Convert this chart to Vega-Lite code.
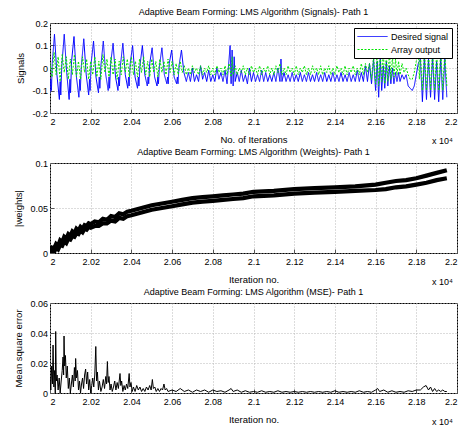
{
  "$schema": "https://vega.github.io/schema/vega-lite/v6.json",
  "background": "white",
  "padding": {"left": 13, "top": 7, "right": 5, "bottom": 5},
  "bounds": "flush",
  "spacing": 50,
  "config": {
    "font": "Liberation Sans",
    "view": {"stroke": "black", "strokeWidth": 1},
    "axis": {
      "labelFontSize": 9, "titleFontSize": 9.5, "titleFontWeight": "normal",
      "labelColor": "#000", "titleColor": "#000", "domain": false, "labelOverlap": false,
      "ticks": true, "tickSize": -4, "tickColor": "#555",
      "grid": true, "gridColor": "#b8b8b8", "gridDash": [1, 2], "gridWidth": 1
    },
    "axisX": {"labelPadding": 8, "titlePadding": 8},
    "axisY": {"labelPadding": 6.5, "titlePadding": 6},
    "title": {"fontSize": 9, "fontWeight": "normal", "color": "#000", "offset": 2},
    "legend": {"orient": "top-right", "offset": 5, "strokeColor": "black", "fillColor": "white", "padding": 3, "labelFontSize": 9, "symbolStrokeWidth": 1, "rowPadding": 2, "labelOffset": 23}
  },
  "vconcat": [
    {
      "title": "Adaptive Beam Forming: LMS Algorithm (Signals)- Path 1",
      "width": 407, "height": 90,
      "layer": [
        {
          "data": {"values": [
{"i":20000,"v":-0.11},{"i":20004,"v":-0.05},{"i":20007,"v":-0.10},{"i":20011,"v":0.02},{"i":20022,"v":0.15},{"i":20034,"v":-0.03},{"i":20046,"v":-0.14},{"i":20050,"v":-0.06},{"i":20053,"v":-0.12},{"i":20058,"v":0.01},{"i":20070,"v":0.15},{"i":20082,"v":-0.02},{"i":20094,"v":-0.14},{"i":20098,"v":-0.05},{"i":20101,"v":-0.11},{"i":20106,"v":0.03},{"i":20118,"v":0.14},{"i":20130,"v":-0.04},{"i":20142,"v":-0.13},{"i":20146,"v":-0.05},{"i":20149,"v":-0.10},{"i":20154,"v":0.01},{"i":20166,"v":0.13},{"i":20178,"v":-0.03},{"i":20190,"v":-0.12},{"i":20194,"v":-0.05},{"i":20197,"v":-0.10},{"i":20202,"v":0.02},{"i":20214,"v":0.12},{"i":20226,"v":-0.04},{"i":20238,"v":-0.11},{"i":20242,"v":-0.04},{"i":20245,"v":-0.09},{"i":20250,"v":0.01},{"i":20262,"v":0.12},{"i":20274,"v":-0.03},{"i":20286,"v":-0.10},{"i":20290,"v":-0.04},{"i":20293,"v":-0.09},{"i":20298,"v":0.02},{"i":20310,"v":0.11},{"i":20322,"v":-0.04},{"i":20334,"v":-0.10},{"i":20338,"v":-0.04},{"i":20341,"v":-0.08},{"i":20346,"v":0.01},{"i":20358,"v":0.11},{"i":20370,"v":-0.03},{"i":20382,"v":-0.09},{"i":20386,"v":-0.04},{"i":20389,"v":-0.08},{"i":20394,"v":0.02},{"i":20406,"v":0.10},{"i":20418,"v":-0.04},{"i":20430,"v":-0.09},{"i":20434,"v":-0.04},{"i":20437,"v":-0.08},{"i":20442,"v":0.01},{"i":20454,"v":0.10},{"i":20466,"v":-0.03},{"i":20478,"v":-0.08},{"i":20482,"v":-0.04},{"i":20485,"v":-0.07},{"i":20490,"v":0.02},{"i":20502,"v":0.09},{"i":20514,"v":-0.04},{"i":20526,"v":-0.08},{"i":20530,"v":-0.04},{"i":20533,"v":-0.07},{"i":20538,"v":0.01},{"i":20550,"v":0.09},{"i":20562,"v":-0.03},{"i":20574,"v":-0.07},{"i":20578,"v":-0.04},{"i":20581,"v":-0.07},{"i":20586,"v":0.02},{"i":20598,"v":0.08},{"i":20610,"v":-0.04},{"i":20622,"v":-0.07},{"i":20626,"v":-0.04},{"i":20629,"v":-0.07},{"i":20634,"v":0.01},{"i":20646,"v":0.08},{"i":20658,"v":-0.02},{"i":20670,"v":-0.06},
{"i":20680,"v":-0.02},{"i":20690,"v":-0.06},{"i":20700,"v":0.0},{"i":20710,"v":-0.06},{"i":20720,"v":-0.03},{"i":20730,"v":-0.06},{"i":20740,"v":0.01},{"i":20750,"v":-0.05},{"i":20760,"v":-0.02},{"i":20770,"v":-0.06},{"i":20780,"v":-0.01},{"i":20790,"v":-0.06},{"i":20800,"v":-0.03},{"i":20810,"v":-0.06},{"i":20820,"v":0.0},{"i":20830,"v":-0.05},{"i":20840,"v":-0.02},{"i":20850,"v":-0.06},{"i":20860,"v":-0.01},{"i":20870,"v":-0.07},{"i":20880,"v":0.04},{"i":20885,"v":0.10},{"i":20890,"v":-0.07},{"i":20895,"v":0.08},{"i":20900,"v":-0.08},{"i":20905,"v":0.05},{"i":20910,"v":-0.06},{"i":20920,"v":-0.02},{"i":20930,"v":-0.06},{"i":20940,"v":-0.01},{"i":20950,"v":-0.06},{"i":20960,"v":-0.03},{"i":20970,"v":-0.07},{"i":20980,"v":0.0},{"i":20990,"v":-0.06},{"i":21000,"v":-0.02},{"i":21010,"v":-0.06},{"i":21020,"v":-0.03},{"i":21030,"v":-0.06},{"i":21040,"v":-0.01},{"i":21050,"v":-0.06},{"i":21060,"v":-0.02},{"i":21070,"v":-0.06},{"i":21080,"v":-0.03},{"i":21090,"v":-0.06},{"i":21100,"v":-0.02},{"i":21110,"v":-0.06},{"i":21120,"v":0.0},{"i":21130,"v":-0.06},{"i":21135,"v":0.04},{"i":21140,"v":-0.06},{"i":21150,"v":-0.02},{"i":21160,"v":-0.06},{"i":21170,"v":-0.03},{"i":21180,"v":-0.06},{"i":21190,"v":-0.02},{"i":21200,"v":-0.06},{"i":21210,"v":-0.03},{"i":21220,"v":-0.06},{"i":21230,"v":-0.02},{"i":21240,"v":-0.06},{"i":21250,"v":-0.03},{"i":21260,"v":-0.06},{"i":21270,"v":-0.02},{"i":21280,"v":-0.06},{"i":21290,"v":-0.03},{"i":21300,"v":-0.06},{"i":21310,"v":-0.02},{"i":21320,"v":-0.06},{"i":21330,"v":-0.03},{"i":21340,"v":-0.06},{"i":21350,"v":-0.02},{"i":21360,"v":-0.06},{"i":21370,"v":-0.03},{"i":21380,"v":-0.06},{"i":21390,"v":-0.02},{"i":21400,"v":-0.06},{"i":21410,"v":-0.03},{"i":21420,"v":-0.06},{"i":21430,"v":-0.02},{"i":21440,"v":-0.06},{"i":21450,"v":-0.03},{"i":21460,"v":-0.06},{"i":21470,"v":-0.02},{"i":21480,"v":-0.06},{"i":21490,"v":-0.03},{"i":21500,"v":-0.06},{"i":21510,"v":-0.01},{"i":21520,"v":-0.06},{"i":21530,"v":-0.02},{"i":21540,"v":-0.06},{"i":21550,"v":0.01},{"i":21560,"v":-0.06},{"i":21570,"v":0.02},{"i":21580,"v":-0.07},{"i":21590,"v":0.04},{"i":21600,"v":-0.10},{"i":21608,"v":0.03},{"i":21615,"v":-0.13},{"i":21623,"v":0.04},{"i":21630,"v":-0.10},{"i":21638,"v":0.01},{"i":21645,"v":-0.09},{"i":21653,"v":0.03},{"i":21660,"v":-0.08},{"i":21668,"v":0.01},{"i":21675,"v":-0.07},{"i":21683,"v":0.0},{"i":21690,"v":-0.07},{"i":21698,"v":-0.02},{"i":21705,"v":-0.06},{"i":21713,"v":-0.02},{"i":21720,"v":-0.06},{"i":21730,"v":-0.03},{"i":21740,"v":-0.05},{"i":21750,"v":-0.03},{"i":21760,"v":-0.08},{"i":21770,"v":-0.09},{"i":21780,"v":-0.10},{"i":21790,"v":-0.08},{"i":21800,"v":-0.03},{"i":21810,"v":0.02},{"i":21820,"v":0.04},{"i":21830,"v":-0.15},{"i":21840,"v":0.05},{"i":21850,"v":-0.14},{"i":21860,"v":0.04},{"i":21870,"v":-0.13},{"i":21880,"v":0.05},{"i":21890,"v":-0.14},{"i":21900,"v":0.03},{"i":21910,"v":-0.15},{"i":21920,"v":0.05},{"i":21930,"v":-0.14},{"i":21940,"v":0.04},{"i":21950,"v":-0.13}
          ]},
          "mark": {"type": "line", "strokeWidth": 1, "clip": true},
          "encoding": {
            "x": {"field": "i", "type": "quantitative", "scale": {"domain": [20000, 22000], "nice": false}, "axis": {"title": "No. of Iterations", "labelOverlap": false, "tickCount": 20, "values": [20000,20200,20400,20600,20800,21000,21200,21400,21600,21800,22000], "labelExpr": "'' + (datum.value / 10000)"}},
            "y": {"field": "v", "type": "quantitative", "scale": {"domain": [-0.2, 0.2], "nice": false}, "axis": {"title": "Signals", "labelOverlap": false, "tickCount": 10, "values": [-0.2,-0.1,0,0.1,0.2], "labelExpr": "'' + datum.value"}},
            "color": {"datum": "Desired signal", "scale": {"domain": ["Desired signal", "Array output"], "range": ["#0000ff", "#00e600"]}, "legend": {"title": null, "symbolType": "M-1,0H5", "symbolSize": 100}},
            "strokeDash": {"datum": "Desired signal", "scale": {"domain": ["Desired signal", "Array output"], "range": [[1, 0], [2, 1.5]]}, "legend": {"title": null, "symbolType": "M-1,0H5", "symbolSize": 100}}
          }
        },
        {
          "data": {"values": [
{"i":20000,"v":0.02},{"i":20010,"v":-0.04},{"i":20020,"v":0.07},{"i":20030,"v":-0.03},{"i":20040,"v":0.05},{"i":20050,"v":-0.06},{"i":20060,"v":0.06},{"i":20070,"v":-0.02},{"i":20080,"v":0.05},{"i":20090,"v":-0.05},{"i":20100,"v":0.04},{"i":20110,"v":-0.03},{"i":20120,"v":0.06},{"i":20130,"v":-0.04},{"i":20140,"v":0.03},{"i":20150,"v":-0.05},{"i":20160,"v":0.05},{"i":20170,"v":-0.02},{"i":20180,"v":0.04},{"i":20190,"v":-0.05},{"i":20200,"v":0.03},{"i":20210,"v":-0.03},{"i":20220,"v":0.05},{"i":20230,"v":-0.04},{"i":20240,"v":0.03},{"i":20250,"v":-0.05},{"i":20260,"v":0.06},{"i":20270,"v":-0.02},{"i":20280,"v":0.04},{"i":20290,"v":-0.04},{"i":20300,"v":0.05},{"i":20310,"v":-0.03},{"i":20320,"v":0.04},{"i":20330,"v":-0.05},{"i":20340,"v":0.03},{"i":20350,"v":-0.03},{"i":20360,"v":0.05},{"i":20370,"v":-0.02},{"i":20380,"v":0.04},{"i":20390,"v":-0.04},{"i":20400,"v":0.05},{"i":20410,"v":-0.03},{"i":20420,"v":0.03},{"i":20430,"v":-0.04},{"i":20440,"v":0.04},{"i":20450,"v":-0.02},{"i":20460,"v":0.05},{"i":20470,"v":-0.03},{"i":20480,"v":0.03},{"i":20490,"v":-0.04},{"i":20500,"v":0.04},{"i":20510,"v":-0.02},{"i":20520,"v":0.03},{"i":20530,"v":-0.04},{"i":20540,"v":0.04},{"i":20550,"v":-0.02},{"i":20560,"v":0.03},{"i":20570,"v":-0.03},{"i":20580,"v":0.04},{"i":20590,"v":-0.02},{"i":20600,"v":0.03},{"i":20610,"v":-0.03},{"i":20620,"v":0.02},{"i":20630,"v":-0.03},{"i":20640,"v":0.03},{"i":20650,"v":-0.02},{"i":20660,"v":0.01},
{"i":20670,"v":-0.03},{"i":20680,"v":0.0},{"i":20690,"v":-0.03},{"i":20700,"v":0.01},{"i":20710,"v":-0.02},{"i":20720,"v":0.0},{"i":20730,"v":-0.03},{"i":20740,"v":0.01},{"i":20750,"v":-0.03},{"i":20760,"v":0.0},{"i":20770,"v":-0.02},{"i":20780,"v":0.01},{"i":20790,"v":-0.03},{"i":20800,"v":0.0},{"i":20810,"v":-0.03},{"i":20820,"v":0.01},{"i":20830,"v":-0.02},{"i":20840,"v":0.0},{"i":20850,"v":-0.03},{"i":20860,"v":0.01},{"i":20870,"v":-0.03},{"i":20880,"v":0.02},{"i":20890,"v":-0.04},{"i":20895,"v":0.05},{"i":20900,"v":-0.03},{"i":20910,"v":0.01},{"i":20920,"v":-0.03},{"i":20930,"v":0.0},{"i":20940,"v":-0.02},{"i":20950,"v":0.01},{"i":20960,"v":-0.03},{"i":20970,"v":0.0},{"i":20980,"v":-0.03},{"i":20990,"v":0.01},{"i":21000,"v":-0.02},{"i":21010,"v":0.0},{"i":21020,"v":-0.03},{"i":21030,"v":0.01},{"i":21040,"v":-0.03},{"i":21050,"v":0.0},{"i":21060,"v":-0.02},{"i":21070,"v":0.01},{"i":21080,"v":-0.03},{"i":21090,"v":0.0},{"i":21100,"v":-0.03},{"i":21110,"v":0.01},{"i":21120,"v":-0.02},{"i":21130,"v":0.02},{"i":21140,"v":-0.03},{"i":21150,"v":0.0},{"i":21160,"v":-0.03},{"i":21170,"v":0.01},{"i":21180,"v":-0.02},{"i":21190,"v":0.0},{"i":21200,"v":-0.03},{"i":21210,"v":0.01},{"i":21220,"v":-0.03},{"i":21230,"v":0.0},{"i":21240,"v":-0.02},{"i":21250,"v":0.01},{"i":21260,"v":-0.03},{"i":21270,"v":0.0},{"i":21280,"v":-0.03},{"i":21290,"v":0.01},{"i":21300,"v":-0.02},{"i":21310,"v":0.0},{"i":21320,"v":-0.03},{"i":21330,"v":0.01},{"i":21340,"v":-0.03},{"i":21350,"v":0.0},{"i":21360,"v":-0.02},{"i":21370,"v":0.01},{"i":21380,"v":-0.03},{"i":21390,"v":0.0},{"i":21400,"v":-0.03},{"i":21410,"v":0.01},{"i":21420,"v":-0.02},{"i":21430,"v":0.0},{"i":21440,"v":-0.03},{"i":21450,"v":0.01},{"i":21460,"v":-0.03},{"i":21470,"v":0.0},{"i":21480,"v":-0.02},{"i":21490,"v":0.01},{"i":21500,"v":-0.03},{"i":21510,"v":0.0},{"i":21520,"v":-0.03},{"i":21530,"v":0.02},{"i":21540,"v":-0.03},{"i":21550,"v":0.02},
{"i":21560,"v":-0.02},{"i":21570,"v":0.02},{"i":21580,"v":-0.05},{"i":21590,"v":0.05},{"i":21600,"v":-0.07},{"i":21608,"v":0.08},{"i":21615,"v":-0.08},{"i":21623,"v":0.07},{"i":21630,"v":-0.06},{"i":21638,"v":0.08},{"i":21645,"v":-0.07},{"i":21653,"v":0.06},{"i":21660,"v":-0.06},{"i":21668,"v":0.07},{"i":21675,"v":-0.05},{"i":21683,"v":0.05},{"i":21690,"v":-0.04},{"i":21698,"v":0.04},{"i":21705,"v":-0.03},{"i":21713,"v":0.03},{"i":21720,"v":-0.03},{"i":21730,"v":0.02},{"i":21740,"v":-0.02},{"i":21750,"v":0.0},{"i":21760,"v":-0.03},{"i":21770,"v":-0.05},{"i":21780,"v":-0.05},{"i":21790,"v":-0.02},{"i":21800,"v":0.03},{"i":21810,"v":0.08},{"i":21815,"v":-0.05},{"i":21820,"v":0.07},{"i":21830,"v":-0.10},{"i":21840,"v":0.08},{"i":21850,"v":-0.10},{"i":21860,"v":0.07},{"i":21870,"v":-0.10},{"i":21880,"v":0.08},{"i":21890,"v":-0.10},{"i":21900,"v":0.07},{"i":21910,"v":-0.10},{"i":21920,"v":0.08},{"i":21930,"v":-0.10},{"i":21940,"v":0.07},{"i":21950,"v":-0.08}
          ]},
          "mark": {"type": "line", "strokeWidth": 1, "clip": true},
          "encoding": {
            "x": {"field": "i", "type": "quantitative"},
            "y": {"field": "v", "type": "quantitative"},
            "color": {"datum": "Array output"},
            "strokeDash": {"datum": "Array output"}
          }
        },
        {
          "data": {"values": [{"t": "x 10⁴"}]},
          "mark": {"type": "text", "align": "right", "baseline": "top", "dy": 24, "dx": -4, "fontSize": 9, "color": "#000"},
          "encoding": {"x": {"datum": 22000}, "y": {"datum": -0.2}, "text": {"field": "t"}}
        }
      ]
    },
    {
      "title": "Adaptive Beam Forming: LMS Algorithm (Weights)- Path 1",
      "width": 407, "height": 90,
      "layer": [
        {
          "data": {"values": [
{"k":"a","i":20000,"w":0.002},{"k":"a","i":20010,"w":0.006},{"k":"a","i":20020,"w":0.005},{"k":"a","i":20030,"w":0.010},{"k":"a","i":20040,"w":0.008},{"k":"a","i":20050,"w":0.014},{"k":"a","i":20060,"w":0.012},{"k":"a","i":20070,"w":0.018},{"k":"a","i":20080,"w":0.016},{"k":"a","i":20090,"w":0.021},{"k":"a","i":20100,"w":0.019},{"k":"a","i":20110,"w":0.024},{"k":"a","i":20120,"w":0.022},{"k":"a","i":20130,"w":0.027},{"k":"a","i":20140,"w":0.025},{"k":"a","i":20150,"w":0.029},{"k":"a","i":20160,"w":0.027},{"k":"a","i":20170,"w":0.031},{"k":"a","i":20180,"w":0.030},{"k":"a","i":20190,"w":0.033},{"k":"a","i":20200,"w":0.032},{"k":"a","i":20220,"w":0.035},{"k":"a","i":20240,"w":0.034},{"k":"a","i":20260,"w":0.038},{"k":"a","i":20280,"w":0.037},{"k":"a","i":20300,"w":0.041},{"k":"a","i":20320,"w":0.040},{"k":"a","i":20340,"w":0.044},{"k":"a","i":20360,"w":0.043},{"k":"a","i":20380,"w":0.046},{"k":"a","i":20400,"w":0.047},{"k":"a","i":20450,"w":0.050},{"k":"a","i":20500,"w":0.053},{"k":"a","i":20550,"w":0.055},{"k":"a","i":20600,"w":0.057},{"k":"a","i":20650,"w":0.059},{"k":"a","i":20700,"w":0.061},{"k":"a","i":20750,"w":0.062},{"k":"a","i":20800,"w":0.063},{"k":"a","i":20850,"w":0.064},{"k":"a","i":20900,"w":0.065},{"k":"a","i":20950,"w":0.066},{"k":"a","i":21000,"w":0.068},{"k":"a","i":21100,"w":0.069},{"k":"a","i":21200,"w":0.071},{"k":"a","i":21300,"w":0.072},{"k":"a","i":21400,"w":0.073},{"k":"a","i":21500,"w":0.074},{"k":"a","i":21600,"w":0.076},{"k":"a","i":21650,"w":0.078},{"k":"a","i":21700,"w":0.080},{"k":"a","i":21750,"w":0.081},{"k":"a","i":21800,"w":0.083},{"k":"a","i":21850,"w":0.086},{"k":"a","i":21900,"w":0.089},{"k":"a","i":21950,"w":0.092},
{"k":"b","i":20000,"w":0.0},{"k":"b","i":20010,"w":0.002},{"k":"b","i":20020,"w":0.001},{"k":"b","i":20030,"w":0.006},{"k":"b","i":20040,"w":0.004},{"k":"b","i":20050,"w":0.009},{"k":"b","i":20060,"w":0.008},{"k":"b","i":20070,"w":0.013},{"k":"b","i":20080,"w":0.011},{"k":"b","i":20090,"w":0.016},{"k":"b","i":20100,"w":0.015},{"k":"b","i":20110,"w":0.019},{"k":"b","i":20120,"w":0.018},{"k":"b","i":20130,"w":0.022},{"k":"b","i":20140,"w":0.021},{"k":"b","i":20150,"w":0.025},{"k":"b","i":20160,"w":0.023},{"k":"b","i":20170,"w":0.027},{"k":"b","i":20180,"w":0.026},{"k":"b","i":20190,"w":0.029},{"k":"b","i":20200,"w":0.028},{"k":"b","i":20220,"w":0.030},{"k":"b","i":20240,"w":0.030},{"k":"b","i":20260,"w":0.033},{"k":"b","i":20280,"w":0.033},{"k":"b","i":20300,"w":0.036},{"k":"b","i":20320,"w":0.035},{"k":"b","i":20340,"w":0.039},{"k":"b","i":20360,"w":0.038},{"k":"b","i":20380,"w":0.041},{"k":"b","i":20400,"w":0.042},{"k":"b","i":20450,"w":0.045},{"k":"b","i":20500,"w":0.048},{"k":"b","i":20550,"w":0.050},{"k":"b","i":20600,"w":0.052},{"k":"b","i":20650,"w":0.054},{"k":"b","i":20700,"w":0.056},{"k":"b","i":20750,"w":0.057},{"k":"b","i":20800,"w":0.058},{"k":"b","i":20850,"w":0.059},{"k":"b","i":20900,"w":0.060},{"k":"b","i":20950,"w":0.061},{"k":"b","i":21000,"w":0.063},{"k":"b","i":21100,"w":0.064},{"k":"b","i":21200,"w":0.066},{"k":"b","i":21300,"w":0.067},{"k":"b","i":21400,"w":0.068},{"k":"b","i":21500,"w":0.069},{"k":"b","i":21600,"w":0.070},{"k":"b","i":21650,"w":0.071},{"k":"b","i":21700,"w":0.073},{"k":"b","i":21750,"w":0.074},{"k":"b","i":21800,"w":0.076},{"k":"b","i":21850,"w":0.078},{"k":"b","i":21900,"w":0.081},{"k":"b","i":21950,"w":0.083}
          ]},
          "mark": {"type": "line", "strokeWidth": 4.2, "color": "#000", "clip": true},
          "encoding": {
            "x": {"field": "i", "type": "quantitative", "scale": {"domain": [20000, 22000], "nice": false}, "axis": {"title": "Iteration no.", "labelOverlap": false, "tickCount": 20, "values": [20000,20200,20400,20600,20800,21000,21200,21400,21600,21800,22000], "labelExpr": "'' + (datum.value / 10000)"}},
            "y": {"field": "w", "type": "quantitative", "scale": {"domain": [0, 0.1], "nice": false}, "axis": {"title": "|weights|", "labelOverlap": false, "tickCount": 10, "values": [0, 0.05, 0.1], "labelExpr": "'' + datum.value"}},
            "detail": {"field": "k"}
          }
        },
        {
          "data": {"values": [{"t": "x 10⁴"}]},
          "mark": {"type": "text", "align": "right", "baseline": "top", "dy": 25, "dx": -4, "fontSize": 9, "color": "#000"},
          "encoding": {"x": {"datum": 22000}, "y": {"datum": 0}, "text": {"field": "t"}}
        }
      ]
    },
    {
      "title": "Adaptive Beam Forming: LMS Algorithm (MSE)- Path 1",
      "width": 407, "height": 90,
      "layer": [
        {
          "data": {"values": [
{"i":20000,"e":0.010},{"i":20004,"e":0.002},{"i":20008,"e":0.018},{"i":20012,"e":0.006},{"i":20015,"e":0.032},{"i":20019,"e":0.004},{"i":20023,"e":0.015},{"i":20026,"e":0.0},{"i":20028,"e":0.041},{"i":20031,"e":0.008},{"i":20035,"e":0.012},{"i":20040,"e":0.002},{"i":20045,"e":0.010},{"i":20050,"e":0.0},{"i":20055,"e":0.008},{"i":20060,"e":0.015},{"i":20064,"e":0.024},{"i":20067,"e":0.012},{"i":20069,"e":0.038},{"i":20072,"e":0.018},{"i":20076,"e":0.025},{"i":20080,"e":0.010},{"i":20085,"e":0.018},{"i":20090,"e":0.003},{"i":20095,"e":0.010},{"i":20100,"e":0.0},{"i":20105,"e":0.006},{"i":20110,"e":0.012},{"i":20115,"e":0.004},{"i":20120,"e":0.017},{"i":20124,"e":0.008},{"i":20126,"e":0.023},{"i":20130,"e":0.010},{"i":20135,"e":0.015},{"i":20140,"e":0.002},{"i":20145,"e":0.008},{"i":20150,"e":0.0},{"i":20155,"e":0.006},{"i":20160,"e":0.010},{"i":20165,"e":0.003},{"i":20170,"e":0.012},{"i":20175,"e":0.016},{"i":20180,"e":0.006},{"i":20185,"e":0.014},{"i":20190,"e":0.002},{"i":20195,"e":0.009},{"i":20200,"e":0.0},{"i":20205,"e":0.005},{"i":20210,"e":0.010},{"i":20215,"e":0.004},{"i":20220,"e":0.012},{"i":20225,"e":0.031},{"i":20229,"e":0.008},{"i":20233,"e":0.014},{"i":20238,"e":0.002},{"i":20243,"e":0.008},{"i":20250,"e":0.001},{"i":20256,"e":0.004},{"i":20262,"e":0.009},{"i":20268,"e":0.003},{"i":20274,"e":0.011},{"i":20278,"e":0.006},{"i":20282,"e":0.021},{"i":20286,"e":0.007},{"i":20290,"e":0.011},{"i":20295,"e":0.002},{"i":20300,"e":0.006},{"i":20306,"e":0.001},{"i":20312,"e":0.004},{"i":20318,"e":0.008},{"i":20324,"e":0.002},{"i":20330,"e":0.007},{"i":20336,"e":0.003},{"i":20344,"e":0.013},{"i":20348,"e":0.005},{"i":20352,"e":0.008},{"i":20358,"e":0.001},{"i":20364,"e":0.005},{"i":20370,"e":0.002},{"i":20376,"e":0.006},{"i":20382,"e":0.003},{"i":20389,"e":0.013},{"i":20393,"e":0.004},{"i":20398,"e":0.007},{"i":20404,"e":0.001},{"i":20410,"e":0.004},{"i":20418,"e":0.001},{"i":20426,"e":0.005},{"i":20434,"e":0.002},{"i":20442,"e":0.004},{"i":20450,"e":0.001},{"i":20458,"e":0.003},{"i":20466,"e":0.001},{"i":20474,"e":0.004},{"i":20482,"e":0.002},{"i":20490,"e":0.005},{"i":20497,"e":0.002},{"i":20503,"e":0.009},{"i":20508,"e":0.003},{"i":20515,"e":0.004},{"i":20522,"e":0.001},{"i":20530,"e":0.003},{"i":20538,"e":0.001},{"i":20546,"e":0.003},{"i":20553,"e":0.002},{"i":20560,"e":0.006},{"i":20566,"e":0.002},{"i":20573,"e":0.003},{"i":20580,"e":0.001},
{"i":20600,"e":0.002},{"i":20620,"e":0.001},{"i":20640,"e":0.003},{"i":20660,"e":0.001},{"i":20680,"e":0.002},{"i":20700,"e":0.0005},{"i":20720,"e":0.002},{"i":20740,"e":0.001},{"i":20760,"e":0.002},{"i":20780,"e":0.0005},{"i":20800,"e":0.002},{"i":20820,"e":0.001},{"i":20840,"e":0.0015},{"i":20860,"e":0.0005},{"i":20880,"e":0.002},{"i":20890,"e":0.003},{"i":20900,"e":0.001},{"i":20920,"e":0.002},{"i":20940,"e":0.0005},{"i":20960,"e":0.0015},{"i":20980,"e":0.0005},{"i":21000,"e":0.001},{"i":21020,"e":0.0005},{"i":21040,"e":0.0015},{"i":21060,"e":0.0005},{"i":21080,"e":0.001},{"i":21100,"e":0.0005},{"i":21120,"e":0.0015},{"i":21140,"e":0.0005},{"i":21160,"e":0.001},{"i":21180,"e":0.0005},{"i":21200,"e":0.001},{"i":21220,"e":0.0005},{"i":21240,"e":0.001},{"i":21260,"e":0.0005},{"i":21280,"e":0.001},{"i":21300,"e":0.0005},{"i":21320,"e":0.001},{"i":21340,"e":0.0005},{"i":21360,"e":0.001},{"i":21380,"e":0.0005},{"i":21400,"e":0.0015},{"i":21420,"e":0.0005},{"i":21440,"e":0.001},{"i":21460,"e":0.0005},{"i":21480,"e":0.001},{"i":21500,"e":0.0005},{"i":21520,"e":0.0015},{"i":21540,"e":0.0005},{"i":21560,"e":0.001},{"i":21580,"e":0.0005},{"i":21600,"e":0.002},{"i":21610,"e":0.003},{"i":21620,"e":0.001},{"i":21640,"e":0.002},{"i":21660,"e":0.0005},{"i":21680,"e":0.0015},{"i":21700,"e":0.0005},{"i":21720,"e":0.001},{"i":21740,"e":0.0005},{"i":21760,"e":0.0015},{"i":21780,"e":0.001},{"i":21800,"e":0.002},{"i":21820,"e":0.002},{"i":21835,"e":0.004},{"i":21848,"e":0.005},{"i":21860,"e":0.002},{"i":21870,"e":0.004},{"i":21880,"e":0.001},{"i":21890,"e":0.003},{"i":21900,"e":0.001},{"i":21910,"e":0.002},{"i":21920,"e":0.001},{"i":21930,"e":0.002},{"i":21940,"e":0.001},{"i":21950,"e":0.001}
          ]},
          "mark": {"type": "line", "strokeWidth": 1, "color": "#000", "clip": true},
          "encoding": {
            "x": {"field": "i", "type": "quantitative", "scale": {"domain": [20000, 22000], "nice": false}, "axis": {"title": "Iteration no.", "labelOverlap": false, "tickCount": 20, "values": [20000,20200,20400,20600,20800,21000,21200,21400,21600,21800,22000], "labelExpr": "'' + (datum.value / 10000)"}},
            "y": {"field": "e", "type": "quantitative", "scale": {"domain": [0, 0.06], "nice": false}, "axis": {"title": "Mean square error", "labelOverlap": false, "tickCount": 10, "values": [0, 0.02, 0.04, 0.06], "labelExpr": "'' + datum.value"}}
          }
        },
        {
          "data": {"values": [{"t": "x 10⁴"}]},
          "mark": {"type": "text", "align": "right", "baseline": "top", "dy": 25, "dx": -4, "fontSize": 9, "color": "#000"},
          "encoding": {"x": {"datum": 22000}, "y": {"datum": 0}, "text": {"field": "t"}}
        }
      ]
    }
  ]
}
